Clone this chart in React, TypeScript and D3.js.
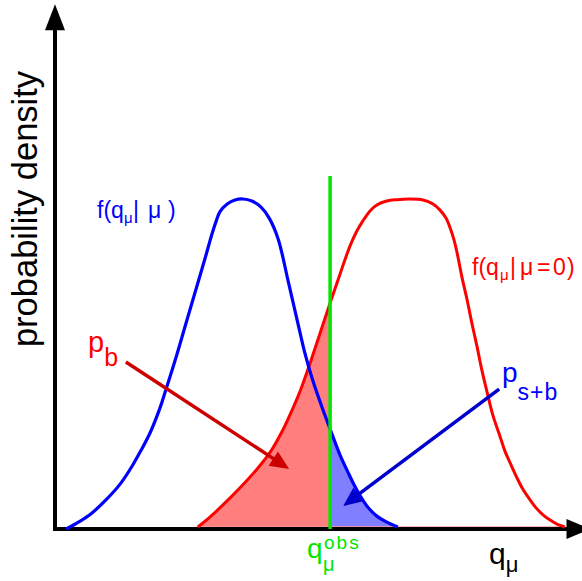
import React from 'react';
import * as d3 from 'd3';

// ---- data ----
const blueQ = [0.21,0.48,0.70,0.97,1.24,1.47,1.62,1.81,2.0,2.11,2.29,2.48,2.67,2.86,2.99,3.07,3.14,3.28,3.43,3.58,3.75,3.92,4.08,4.25,4.44,4.63,4.76,4.9,5.05,5.24,5.43,5.56,5.75,5.94,6.13,6.32,6.53];
const blueDensity = [0,0.024,0.048,0.088,0.136,0.191,0.233,0.291,0.367,0.421,0.512,0.615,0.718,0.821,0.894,0.933,0.961,0.985,0.997,1.0,0.994,0.976,0.942,0.879,0.752,0.621,0.533,0.455,0.385,0.303,0.224,0.179,0.118,0.07,0.039,0.021,0.006];

const redQ = [2.72,2.95,3.2,3.52,3.85,4.1,4.34,4.51,4.67,4.86,5.05,5.24,5.43,5.62,5.75,5.85,6.0,6.13,6.32,6.51,6.76,7.01,7.2,7.33,7.45,7.52,7.6,7.66,7.75,7.85,7.94,8.04,8.13,8.23,8.34,8.48,8.57,8.67,8.8,8.91,9.05,9.18,9.3,9.43,9.56,9.71];
const redDensity = [0.006,0.036,0.073,0.124,0.182,0.233,0.3,0.358,0.418,0.503,0.594,0.685,0.773,0.858,0.903,0.93,0.964,0.982,0.994,0.998,1.0,0.997,0.985,0.967,0.942,0.915,0.876,0.836,0.764,0.694,0.624,0.552,0.482,0.415,0.345,0.279,0.236,0.2,0.155,0.121,0.088,0.061,0.042,0.027,0.015,0.006];

const qObs = 5.24;
const obsLineTop = 1.07;
const axisQMax = 10.2;
const axisDensityMax = 1.59;

// annotation arrows: [q, density] from -> to
const pbArrow = [[1.35, 0.506], [4.46, 0.182]];
const psbArrow = [[8.46, 0.424], [5.49, 0.07]];

const W = 582;
const H = 581;
const FONT = 'Liberation Sans, Arial, Helvetica, sans-serif';

function Arrow({ from, to, color, width = 3.5, headLen = 19, headHalf = 8.5 }) {
  const [x1, y1] = from;
  const [x2, y2] = to;
  const dx = x2 - x1, dy = y2 - y1;
  const len = Math.hypot(dx, dy);
  const ux = dx / len, uy = dy / len;
  const bx = x2 - ux * headLen, by = y2 - uy * headLen;
  const px = -uy, py = ux;
  const pts = [
    [x2, y2],
    [bx + px * headHalf, by + py * headHalf],
    [bx - px * headHalf, by - py * headHalf],
  ];
  return (
    <g>
      <line x1={x1} y1={y1} x2={bx + ux * 2} y2={by + uy * 2} stroke={color} strokeWidth={width} />
      <polygon points={pts.map(p => p.join(',')).join(' ')} fill={color} />
    </g>
  );
}

export default function App() {
  const x = d3.scaleLinear().domain([0, 10]).range([55, 580]);
  const y = d3.scaleLinear().domain([0, 1]).range([529, 199]);

  const blue = blueQ.map((q, i) => [q, blueDensity[i]]);
  const red = redQ.map((q, i) => [q, redDensity[i]]);

  const line = d3.line().x(d => x(d[0])).y(d => y(d[1])).curve(d3.curveCatmullRom.alpha(0.5));
  const area = d3.area().x(d => x(d[0])).y0(y(0)).y1(d => y(d[1])).curve(d3.curveCatmullRom.alpha(0.5));

  const x0 = x(0), y0 = y(0);
  const xTop = x(axisQMax), yTop = y(axisDensityMax);
  const xo = x(qObs);

  return (
    <svg width={W} height={H} style={{ position: 'absolute', left: 0, top: 0, background: '#fff' }} fontFamily={FONT}>
      <defs>
        <clipPath id="leftClip"><rect x={0} y={0} width={xo} height={H} /></clipPath>
        <clipPath id="rightClip"><rect x={xo} y={0} width={W - xo} height={H} /></clipPath>
      </defs>
      <rect width={W} height={H} fill="#fff" />

      {/* shaded p-value regions */}
      <path d={area(red)} fill="#ff7f7f" clipPath="url(#leftClip)" />
      <path d={area(blue)} fill="#7f7fff" clipPath="url(#rightClip)" />

      {/* faint red baseline */}
      <line x1={x(redQ[0])} x2={x(redQ[redQ.length - 1])} y1={y0 - 2} y2={y0 - 2} stroke="#ff9a9a" strokeWidth={1.5} />

      {/* axes */}
      <line x1={x0} y1={y0} x2={x0} y2={yTop + 20} stroke="#000" strokeWidth={4} />
      <polygon points={`${x0},${yTop} ${x0 - 10},${yTop + 26} ${x0 + 10},${yTop + 26}`} fill="#000" />
      <line x1={x0 - 2} y1={y0} x2={xTop - 20} y2={y0} stroke="#000" strokeWidth={4} />
      <polygon points={`${xTop},${y0} ${xTop - 24},${y0 - 10} ${xTop - 24},${y0 + 10}`} fill="#000" />

      {/* curves */}
      <path d={line(red)} fill="none" stroke="#ff0000" strokeWidth={3} />
      <path d={line(blue)} fill="none" stroke="#0000ff" strokeWidth={3.2} />

      {/* observed line */}
      <line x1={xo} x2={xo} y1={y0} y2={y(obsLineTop)} stroke="#00e600" strokeWidth={3.5} />

      {/* arrows */}
      <Arrow from={[x(pbArrow[0][0]), y(pbArrow[0][1])]} to={[x(pbArrow[1][0]), y(pbArrow[1][1])]} color="#cc0000" />
      <Arrow from={[x(psbArrow[0][0]), y(psbArrow[0][1])]} to={[x(psbArrow[1][0]), y(psbArrow[1][1])]} color="#0000cc" />

      {/* labels */}
      <text transform="translate(37,209) rotate(-90)" textAnchor="middle" fontSize={34.5} fill="#000">probability density</text>

      <text y={218} fontSize={23} fill="#0000ff">
        <tspan x={97}>f(q</tspan>
        <tspan x={124} fontSize={15} y={223}>μ</tspan>
        <tspan x={133} y={218}>|</tspan>
        <tspan x={148}>μ</tspan>
        <tspan x={168}>)</tspan>
      </text>

      <text y={275} fontSize={23} fill="#ff0000">
        <tspan x={472}>f(q</tspan>
        <tspan x={500} fontSize={15} y={280}>μ</tspan>
        <tspan x={510} y={275}>|</tspan>
        <tspan x={520}>μ</tspan>
        <tspan x={537}>=</tspan>
        <tspan x={553}>0</tspan>
        <tspan x={567}>)</tspan>
      </text>

      <text x={88} y={352} fontSize={29} fill="#ff0000">
        <tspan>p</tspan>
        <tspan fontSize={25} y={366}>b</tspan>
      </text>

      <text x={502} y={382} fontSize={28} fill="#0000ff">
        <tspan>p</tspan>
        <tspan fontSize={23} y={400} letterSpacing={1}>s+b</tspan>
      </text>

      <text x={307} y={558} fontSize={28} fill="#00e600">
        <tspan>q</tspan>
        <tspan fontSize={20} x={323} y={571}>μ</tspan>
        <tspan fontSize={19} x={324} y={549} letterSpacing={2}>obs</tspan>
      </text>

      <text x={489} y={564} fontSize={30} fill="#000">
        <tspan>q</tspan>
        <tspan fontSize={22} y={572}>μ</tspan>
      </text>
    </svg>
  );
}
